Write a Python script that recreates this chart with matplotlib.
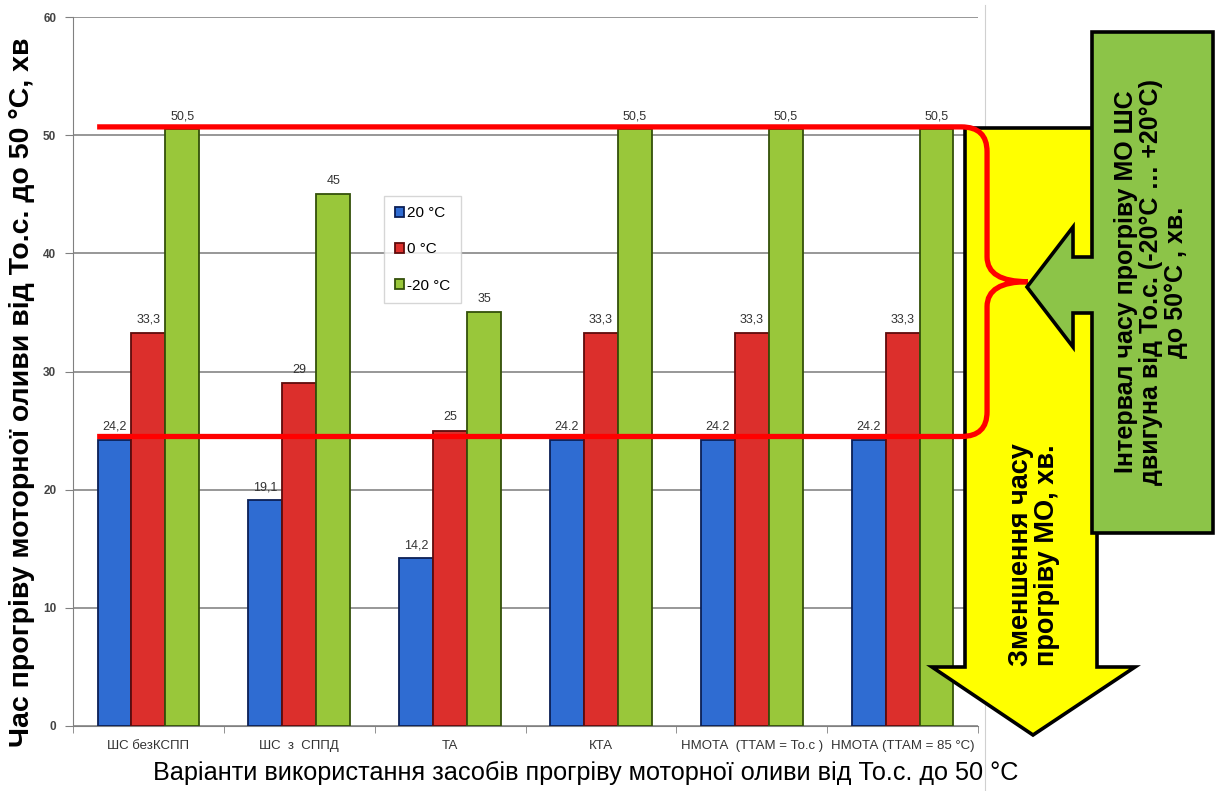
import matplotlib
matplotlib.use('Agg')
import matplotlib.pyplot as plt
from matplotlib import font_manager
from matplotlib.patches import Polygon, PathPatch
from matplotlib.path import Path
import numpy as np

categories = ['ШС безКСПП', 'ШС  з  СППД', 'ТА', 'КТА',
              'НМОТА  (ТТАМ = То.с )', 'НМОТА (ТТАМ = 85 °С)']
series_names = ['20 °С', '0 °С', '-20 °С']
t_plus20 = [24.2, 19.1, 14.2, 24.2, 24.2, 24.2]
t_zero = [33.3, 29, 25, 33.3, 33.3, 33.3]
t_minus20 = [50.5, 45, 35, 50.5, 50.5, 50.5]
lab_plus20 = ['24,2', '19,1', '14,2', '24.2', '24.2', '24.2']
lab_zero = ['33,3', '29', '25', '33,3', '33,3', '33,3']
lab_minus20 = ['50,5', '45', '35', '50,5', '50,5', '50,5']
y_ticks = [0, 10, 20, 30, 40, 50, 60]

names = {f.name for f in font_manager.fontManager.ttflist}
narrow = 'Liberation Sans Narrow' if 'Liberation Sans Narrow' in names else 'Liberation Sans'
plt.rcParams['font.family'] = ['Liberation Sans', 'DejaVu Sans']

W, H = 1215, 791
fig = plt.figure(figsize=(W / 100, H / 100), dpi=100)
ax = fig.add_axes([73 / W, 1 - 726 / H, 905 / W, 709 / H])


def fp(px, py):
    # pixel position -> figure fraction
    return (px / W, 1 - py / H)


x = np.arange(len(categories))
bw = 0.225
colors = ['#2F6CD2', '#DC2F2C', '#99C73A']
edges = ['#0B1F55', '#5E0B0B', '#34500A']
series = [t_plus20, t_zero, t_minus20]
labels = [lab_plus20, lab_zero, lab_minus20]
for i in range(3):
    xs = x + (i - 1) * bw
    ax.bar(xs, series[i], bw, color=colors[i], edgecolor=edges[i], linewidth=1.3,
           label=series_names[i], zorder=3)
    for xx, v, s in zip(xs, series[i], labels[i]):
        ax.text(xx, v + 0.6, s, ha='center', va='bottom', fontsize=9,
                family=narrow, color='#333333', zorder=6)

ax.set_xlim(-0.5, len(categories) - 0.5)
ax.set_ylim(0, 60)
ax.set_yticks(y_ticks)
ax.set_yticklabels([str(t) for t in y_ticks], fontsize=8.5, color='#444444', fontweight='bold')
ax.set_xticks(x)
ax.set_xticklabels(categories, fontsize=9.5, family=narrow, color='#333333')
ax.tick_params(axis='x', length=0, pad=10)
ax.set_xticks(np.arange(-0.5, len(categories)), minor=True)
ax.tick_params(axis='x', which='minor', length=5, color='#808080')
ax.tick_params(axis='y', length=6, color='#808080', pad=6)
ax.grid(axis='y', color='#7a7a7a', linewidth=1.1, zorder=0)
ax.set_axisbelow(True)
for s in ['top', 'right']:
    ax.spines[s].set_visible(False)
for s in ['left', 'bottom']:
    ax.spines[s].set_color('#808080')

leg = ax.legend(loc='upper left', bbox_to_anchor=(0.335, 0.759),
                prop={'family': narrow, 'size': 11}, frameon=True, fancybox=False,
                handlelength=0.6, handleheight=0.6, handletextpad=0.2,
                labelspacing=1.45, borderpad=0.7, edgecolor='#cccccc')
leg.set_zorder(7)

# chart area border on the right
fig.add_artist(plt.Line2D([985 / W, 985 / W], [1 - 5 / H, 1 - 790 / H],
                          color='#d0d0d0', linewidth=0.8))

# yellow arrow
yellow = [(965, 128), (1097, 128), (1097, 667), (1135, 667), (1033, 735),
          (932, 667), (965, 667)]
fig.add_artist(Polygon([fp(*p) for p in yellow], closed=True, facecolor='#FFFF00',
                       edgecolor='black', linewidth=2.6, zorder=8))

# red brace around interval
top = max(t_minus20) + 0.2
bot = max(t_plus20) + 0.3
mid = (top + bot) / 2
x0, xv, xt = -0.34, 5.56, 5.83
rx, ry = 0.17, 2.1
verts = [(x0, top), (xv - rx, top), (xv, top), (xv, top - ry), (xv, mid + ry),
         (xv, mid), (xt, mid), (xv, mid), (xv, mid - ry), (xv, bot + ry),
         (xv, bot), (xv - rx, bot), (x0, bot)]
codes = [Path.MOVETO, Path.LINETO, Path.CURVE3, Path.CURVE3, Path.LINETO,
         Path.CURVE3, Path.CURVE3, Path.CURVE3, Path.CURVE3, Path.LINETO,
         Path.CURVE3, Path.CURVE3, Path.LINETO]
brace = PathPatch(Path(verts, codes), facecolor='none', edgecolor='#FF0000',
                  linewidth=3.8, transform=ax.transData, clip_on=False, zorder=9)
fig.add_artist(brace)

# green callout
green = [(1092, 32), (1213, 32), (1213, 533), (1092, 533), (1092, 313), (1073, 313),
         (1073, 347), (1027, 287), (1073, 227), (1073, 257), (1092, 257)]
fig.add_artist(Polygon([fp(*p) for p in green], closed=True, facecolor='#8CC448',
                       edgecolor='black', linewidth=2.6, zorder=10))

fig.text(*fp(1151, 282), 'Інтервал часу прогріву МО ШС\nдвигуна від То.с. (-20°С … +20°С)\nдо 50°С , хв.',
         rotation=90, ha='center', va='center', fontsize=18, fontweight='bold',
         linespacing=1.05, multialignment='center', zorder=11)
fig.text(*fp(1034, 555), 'Зменшення часу\nпрогріву МО, хв.',
         rotation=90, ha='center', va='center', fontsize=19.5, fontweight='bold',
         linespacing=1.0, multialignment='center', zorder=11)

fig.text(*fp(22, 392), 'Час прогріву моторної оливи від То.с. до 50 °С, хв',
         rotation=90, ha='center', va='center', fontsize=20.5, fontweight='bold')
fig.text(*fp(586, 773), 'Варіанти використання засобів прогріву моторної оливи від То.с. до 50 °С',
         ha='center', va='center', fontsize=18.2, family=narrow)

fig.savefig('out.png', dpi=100)
